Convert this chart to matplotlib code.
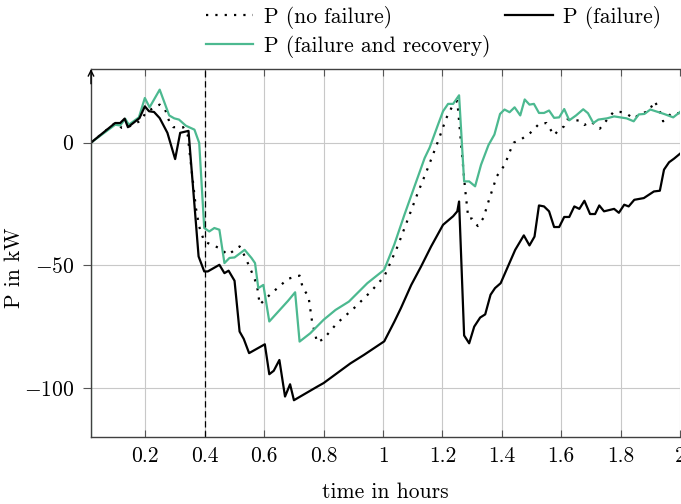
import matplotlib
matplotlib.use("Agg")
import matplotlib.pyplot as plt
from matplotlib.ticker import FuncFormatter

plt.rcParams["font.family"] = "serif"
plt.rcParams["font.serif"] = ["cmr10", "DejaVu Serif"]
plt.rcParams["mathtext.fontset"] = "cm"
plt.rcParams["axes.formatter.use_mathtext"] = True

GREEN = "#4cb990"
FS = 15.5

# P (failure)
t_fail = [0.0167, 0.098, 0.115, 0.13, 0.141, 0.18, 0.198, 0.212, 0.229, 0.248,
          0.274, 0.30, 0.317, 0.345, 0.379, 0.398, 0.41, 0.449, 0.466, 0.48,
          0.50, 0.517, 0.531, 0.549, 0.602, 0.617, 0.632, 0.651, 0.67, 0.687,
          0.70, 0.778, 0.80, 0.845, 0.89, 0.936, 1.004, 1.027, 1.038, 1.06,
          1.095, 1.128, 1.162, 1.202, 1.236, 1.25, 1.256, 1.273, 1.29, 1.307,
          1.327, 1.344, 1.362, 1.377, 1.396, 1.423, 1.445, 1.474, 1.493, 1.51,
          1.525, 1.542, 1.559, 1.576, 1.593, 1.61, 1.627, 1.644, 1.661, 1.678,
          1.697, 1.714, 1.728, 1.744, 1.778, 1.794, 1.812, 1.827, 1.846, 1.878,
          1.912, 1.932, 1.946, 1.963, 1.98, 2.0]
p_fail = [0, 8, 8, 9.8, 6.3, 10, 14.8, 12.8, 12.5, 10,
          4, -6.7, 4, 4.8, -46.4, -52.5, -52.5, -49.8, -53.2, -52.2,
          -56.3, -77, -80, -85.8, -82.2, -94.4, -93, -88.6, -103.5, -98.5,
          -105, -99.5, -98, -94, -90, -86.5, -81, -75.6, -73, -67.5,
          -58, -50.5, -42.3, -33.5, -30, -28, -24, -78.6, -81.8, -75,
          -71.3, -70, -62, -59.3, -57.3, -49.8, -43.7, -37.8, -41.9, -38.3,
          -25.6, -26, -28, -34.4, -34.4, -30.3, -30.3, -26, -27, -23.7,
          -29.1, -29.1, -25.6, -28, -27, -28.6, -25.3, -26, -23.3, -22.6,
          -19.9, -19.6, -11, -8, -6.5, -4.5]

# P (no failure)
t_nofail = [0.0167, 0.098, 0.121, 0.141, 0.185, 0.20, 0.229, 0.248, 0.266, 0.28,
            0.294, 0.327, 0.342, 0.37, 0.381, 0.398, 0.449, 0.478, 0.517, 0.535,
            0.557, 0.575, 0.585, 0.619, 0.68, 0.719, 0.73, 0.749, 0.761, 0.778,
            0.80, 0.845, 0.902, 0.959, 1.004, 1.049, 1.083, 1.117, 1.151, 1.185,
            1.213, 1.236, 1.25, 1.276, 1.287, 1.30, 1.319, 1.338, 1.355, 1.383,
            1.41, 1.428, 1.44, 1.468, 1.496, 1.525, 1.55, 1.576, 1.59, 1.61,
            1.62, 1.66, 1.678, 1.70, 1.73, 1.745, 1.776, 1.80, 1.82, 1.844,
            1.866, 1.895, 1.914, 1.93, 1.943, 1.957, 1.974, 2.0]
p_nofail = [0, 8, 6, 6.3, 9, 12, 14.4, 15.5, 13.6, 8.7,
            6.3, 6.3, 3.3, -26.7, -34.2, -40.3, -43, -45.7, -42.3, -46.4,
            -52.5, -57.8, -66, -62, -55.5, -54.2, -59.3, -62.7, -72.9, -81.4,
            -80, -73.6, -67.5, -60.7, -54.6, -42.3, -31.4, -20.5, -10.3, 0.5,
            10, 15.5, 17, -18.5, -30.7, -31, -34, -30.7, -24, -13.7,
            -9, -3.3, 0, 1.6, 4, 7.6, 8, 3, 5, 6.7,
            9.4, 9, 7.2, 8.6, 5.7, 8, 12.5, 12.5, 11.8, 9.8,
            11.8, 12.8, 16.9, 13.6, 8.7, 10.5, 12.1, 12]

# P (failure and recovery)
t_recov = [0.0167, 0.0167, 0.098, 0.115, 0.132, 0.144, 0.178, 0.198, 0.214, 0.248,
           0.28, 0.297, 0.313, 0.336, 0.365, 0.381, 0.398, 0.415, 0.432, 0.449,
           0.466, 0.483, 0.50, 0.534, 0.557, 0.569, 0.58, 0.597, 0.617, 0.68,
           0.704, 0.719, 0.755, 0.80, 0.84, 0.885, 0.947, 1.004, 1.038, 1.072,
           1.106, 1.14, 1.157, 1.185, 1.202, 1.219, 1.236, 1.256, 1.273, 1.29,
           1.31, 1.33, 1.355, 1.375, 1.394, 1.409, 1.426, 1.443, 1.462, 1.477,
           1.493, 1.508, 1.525, 1.542, 1.559, 1.576, 1.593, 1.61, 1.627, 1.65,
           1.674, 1.69, 1.708, 1.725, 1.754, 1.778, 1.82, 1.844, 1.861, 1.88,
           1.90, 1.946, 1.977, 2.0]
p_recov = [-140, 0, 7.3, 7, 9.7, 7.3, 10.3, 18.2, 14.4, 21.6,
           11.1, 9.9, 9.4, 6.9, 5.3, -0.1, -34.8, -36.2, -34.8, -35.5,
           -49.1, -47, -46.8, -43.7, -47, -49.1, -59.3, -58, -72.9, -64.5,
           -61, -81.1, -77.7, -72.2, -68.2, -64.8, -57.3, -51.8, -41.5, -29.4,
           -17.8, -6.3, -2, 7.3, 12.8, 15.8, 15.8, 19.3, -15.8, -15.8,
           -17.8, -9, -1, 3.3, 11.7, 13.5, 12.4, 14.4, 11.1, 17.6,
           15.5, 15.8, 12.1, 12.1, 13.1, 10.1, 10.3, 13.7, 9.1, 11.1,
           13.6, 12, 8, 9.4, 9.9, 10.7, 9.9, 8.7, 11.5, 11.7,
           13.5, 11.7, 10.3, 12.5]

FAILURE_TIME = 0.4

fig = plt.figure(figsize=(6.81, 5.04), dpi=100)
ax = fig.add_axes([0.1336, 0.1329, 0.865, 0.7301])

ax.grid(True, color="#c8c8c8", linewidth=0.8)
ax.set_axisbelow(True)

l_nofail, = ax.plot(t_nofail, p_nofail, color="black", linestyle=(0, (1, 3.2)),
                    linewidth=1.6, label="P (no failure)")
l_recov, = ax.plot(t_recov, p_recov, color=GREEN, linewidth=1.6,
                   label="P (failure and recovery)")
l_fail, = ax.plot(t_fail, p_fail, color="black", linewidth=1.6,
                  label="P (failure)")
ax.axvline(FAILURE_TIME, color="black", linestyle=(0, (5, 3)), linewidth=0.9)

ax.set_xlim(1 / 60, 2.0)
ax.set_ylim(-120, 30)
ax.set_xticks([0.2, 0.4, 0.6, 0.8, 1.0, 1.2, 1.4, 1.6, 1.8, 2.0])
ax.set_yticks([-100, -50, 0])
ax.xaxis.set_major_formatter(FuncFormatter(lambda v, _: f"{v:g}"))
ax.yaxis.set_major_formatter(FuncFormatter(lambda v, _: f"${v:g}$"))
ax.tick_params(axis="x", direction="in", length=5, top=True, labelsize=FS,
               color="#555555", pad=7)
ax.tick_params(axis="y", direction="out", length=6, labelsize=FS,
               color="#555555", pad=6)

for side in ["left", "bottom", "top"]:
    ax.spines[side].set_color("#404040")
    ax.spines[side].set_linewidth(1.0)
ax.spines["right"].set_visible(False)
ax.annotate("", xy=(0, 1.0), xytext=(0, 0.96), xycoords="axes fraction",
            arrowprops=dict(arrowstyle="->", color="black", lw=1.0,
                            shrinkA=0, shrinkB=0))

ax.set_xlabel("time in hours", fontsize=FS, labelpad=12)
ax.set_ylabel("P in kW", fontsize=FS)
ax.yaxis.set_label_coords(-0.114, 0.46)

fig.legend(handles=[l_nofail, l_recov, l_fail], ncol=2, frameon=False,
           loc="upper left", bbox_to_anchor=(0.302, 0.989), fontsize=FS,
           handlelength=2.2, handletextpad=0.5, columnspacing=0.7,
           labelspacing=0.3, borderpad=0, borderaxespad=0)

fig.savefig("out.png", dpi=100)
